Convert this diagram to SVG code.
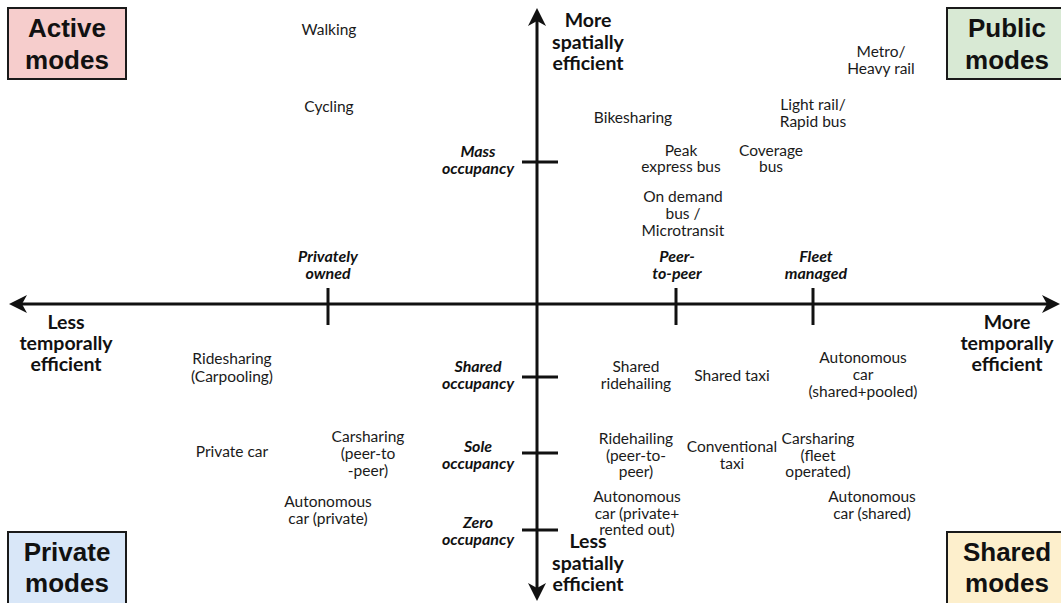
<svg xmlns="http://www.w3.org/2000/svg" width="1061" height="603" viewBox="0 0 1061 603">
  <style>
    .box { stroke: #1a1a1a; stroke-width: 2; }
    .title { font-family: "Liberation Sans", Arial, sans-serif; font-weight: bold; font-size: 26px; fill: #111; text-anchor: middle; }
    .lbl { font-family: Lato, "Open Sans", sans-serif; font-size: 15.5px; fill: #1a1a1a; text-anchor: middle; }
    .tick { font-family: Lato, "Open Sans", sans-serif; font-weight: bold; font-style: italic; font-size: 16px; fill: #111; text-anchor: middle; }
    .axis { font-family: Lato, "Open Sans", sans-serif; font-weight: bold; font-size: 19.5px; fill: #111; text-anchor: middle; }
    .ln { stroke: #111; stroke-width: 3; fill: none; }
    .head { fill: #111; }
  </style>

  <!-- corner category boxes -->
  <g id="active-modes">
    <rect class="box" x="8" y="8" width="118" height="71" fill="#f6cdcc"/>
    <text class="title" x="67" y="37">Active</text>
    <text class="title" x="67" y="69">modes</text>
  </g>
  <g id="public-modes">
    <rect class="box" x="947" y="8" width="120" height="71" fill="#d8e9d4"/>
    <text class="title" x="1007" y="37">Public</text>
    <text class="title" x="1007" y="69">modes</text>
  </g>
  <g id="private-modes">
    <rect class="box" x="8" y="532" width="118" height="76" fill="#d9e7f8"/>
    <text class="title" x="67" y="561">Private</text>
    <text class="title" x="67" y="592">modes</text>
  </g>
  <g id="shared-modes">
    <rect class="box" x="947" y="532" width="120" height="76" fill="#fdefcc"/>
    <text class="title" x="1007" y="561">Shared</text>
    <text class="title" x="1007" y="592">modes</text>
  </g>

  <!-- axes and tick marks -->
  <g id="connectors">
    <line class="ln" x1="537" y1="18" x2="537" y2="592"/>
    <line class="ln" x1="18" y1="304" x2="1052" y2="304"/>
    <path class="head" d="M537,8 L546,26 L537,21 L528,26 Z"/>
    <path class="head" d="M537,601 L546,583 L537,588 L528,583 Z"/>
    <path class="head" d="M9,304 L27,295 L22,304 L27,313 Z"/>
    <path class="head" d="M1060,304 L1042,295 L1047,304 L1042,313 Z"/>
    <line class="ln" x1="522" y1="162" x2="558" y2="162"/>
    <line class="ln" x1="522" y1="377" x2="558" y2="377"/>
    <line class="ln" x1="522" y1="453" x2="558" y2="453"/>
    <line class="ln" x1="522" y1="530" x2="558" y2="530"/>
    <line class="ln" x1="328" y1="288" x2="328" y2="325"/>
    <line class="ln" x1="676" y1="288" x2="676" y2="325"/>
    <line class="ln" x1="813" y1="288" x2="813" y2="325"/>
  </g>

  <!-- axis end labels -->
  <g id="axis-more-spatial">
    <text class="axis" x="588" y="27">More</text>
    <text class="axis" x="588" y="49">spatially</text>
    <text class="axis" x="588" y="70">efficient</text>
  </g>
  <g id="axis-less-spatial">
    <text class="axis" x="588" y="548">Less</text>
    <text class="axis" x="588" y="570">spatially</text>
    <text class="axis" x="588" y="591">efficient</text>
  </g>
  <g id="axis-less-temporal">
    <text class="axis" x="66" y="329">Less</text>
    <text class="axis" x="66" y="350">temporally</text>
    <text class="axis" x="66" y="371">efficient</text>
  </g>
  <g id="axis-more-temporal">
    <text class="axis" x="1007" y="329">More</text>
    <text class="axis" x="1007" y="350">temporally</text>
    <text class="axis" x="1007" y="371">efficient</text>
  </g>

  <!-- tick labels -->
  <g id="tick-mass"><text class="tick" x="478" y="157">Mass</text><text class="tick" x="478" y="174">occupancy</text></g>
  <g id="tick-shared"><text class="tick" x="478" y="372">Shared</text><text class="tick" x="478" y="389">occupancy</text></g>
  <g id="tick-sole"><text class="tick" x="478" y="452">Sole</text><text class="tick" x="478" y="469">occupancy</text></g>
  <g id="tick-zero"><text class="tick" x="478" y="528">Zero</text><text class="tick" x="478" y="545">occupancy</text></g>
  <g id="tick-private"><text class="tick" x="328" y="262">Privately</text><text class="tick" x="328" y="279">owned</text></g>
  <g id="tick-peer"><text class="tick" x="677" y="262">Peer-</text><text class="tick" x="677" y="279">to-peer</text></g>
  <g id="tick-fleet"><text class="tick" x="816" y="262">Fleet</text><text class="tick" x="816" y="279">managed</text></g>

  <!-- transport modes -->
  <g id="walking"><text class="lbl" x="329" y="35">Walking</text></g>
  <g id="cycling"><text class="lbl" x="329" y="112">Cycling</text></g>
  <g id="metro"><text class="lbl" x="881" y="57">Metro/</text><text class="lbl" x="881" y="74">Heavy rail</text></g>
  <g id="light-rail"><text class="lbl" x="813" y="110">Light rail/</text><text class="lbl" x="813" y="127">Rapid bus</text></g>
  <g id="bikesharing"><text class="lbl" x="633" y="123">Bikesharing</text></g>
  <g id="peak-express"><text class="lbl" x="681" y="156">Peak</text><text class="lbl" x="681" y="172">express bus</text></g>
  <g id="coverage-bus"><text class="lbl" x="771" y="156">Coverage</text><text class="lbl" x="771" y="172">bus</text></g>
  <g id="on-demand"><text class="lbl" x="683" y="202">On demand</text><text class="lbl" x="683" y="219">bus /</text><text class="lbl" x="683" y="236">Microtransit</text></g>
  <g id="ridesharing"><text class="lbl" x="232" y="364">Ridesharing</text><text class="lbl" x="232" y="382">(Carpooling)</text></g>
  <g id="private-car"><text class="lbl" x="232" y="457">Private car</text></g>
  <g id="carsharing-p2p"><text class="lbl" x="368" y="442">Carsharing</text><text class="lbl" x="368" y="459">(peer-to</text><text class="lbl" x="368" y="476">-peer)</text></g>
  <g id="autonomous-private"><text class="lbl" x="328" y="507">Autonomous</text><text class="lbl" x="328" y="524">car (private)</text></g>
  <g id="shared-ridehailing"><text class="lbl" x="636" y="372">Shared</text><text class="lbl" x="636" y="389">ridehailing</text></g>
  <g id="shared-taxi"><text class="lbl" x="732" y="381">Shared taxi</text></g>
  <g id="autonomous-shared-pooled"><text class="lbl" x="863" y="363">Autonomous</text><text class="lbl" x="863" y="380">car</text><text class="lbl" x="863" y="397">(shared+pooled)</text></g>
  <g id="ridehailing-p2p"><text class="lbl" x="636" y="444">Ridehailing</text><text class="lbl" x="636" y="461">(peer-to-</text><text class="lbl" x="636" y="477">peer)</text></g>
  <g id="conventional-taxi"><text class="lbl" x="732" y="452">Conventional</text><text class="lbl" x="732" y="469">taxi</text></g>
  <g id="carsharing-fleet"><text class="lbl" x="818" y="444">Carsharing</text><text class="lbl" x="818" y="461">(fleet</text><text class="lbl" x="818" y="477">operated)</text></g>
  <g id="autonomous-rented"><text class="lbl" x="637" y="502">Autonomous</text><text class="lbl" x="637" y="519">car (private+</text><text class="lbl" x="637" y="535">rented out)</text></g>
  <g id="autonomous-shared"><text class="lbl" x="872" y="502">Autonomous</text><text class="lbl" x="872" y="519">car (shared)</text></g>
</svg>
